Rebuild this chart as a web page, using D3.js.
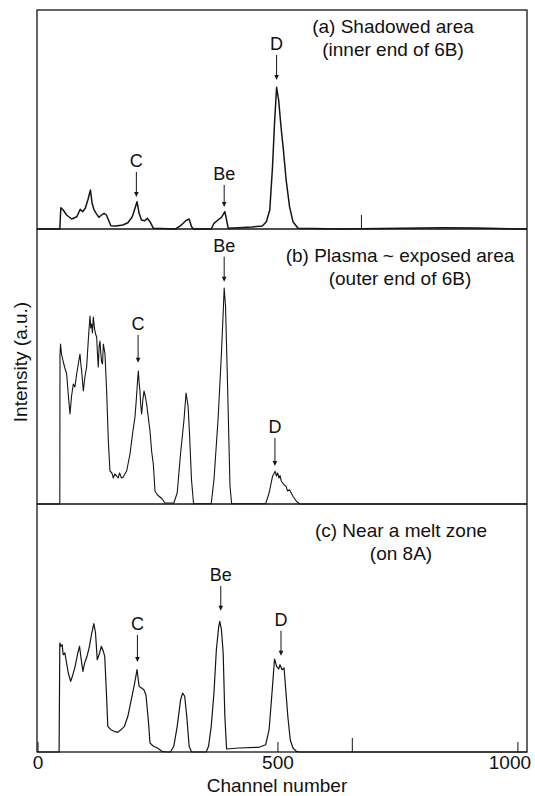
<!DOCTYPE html>
<html>
<head>
<meta charset="utf-8">
<script src="https://cdn.jsdelivr.net/npm/d3@7"></script>
<style>
  html, body { margin: 0; padding: 0; background: #fff; }
  text { font-family: "Liberation Sans", Arial, Helvetica, sans-serif; fill: #111; }
</style>
</head>
<body>
<svg id="chart" width="535" height="796"></svg>
<script>
// ---------------- data (channel, intensity a.u.) ----------------
const spectrumA = [
  [0,0],[46.5,0],[48.6,21.3],[53.5,19],[60.6,14],[71.3,10],[81.9,12.3],[89,19.7],[94,17.3],
  [99.6,20.7],[105.3,29.7],[110.3,39],[113.8,25.7],[117.4,19.7],[122.3,15.7],[128,11.7],
  [133.7,14],[138.7,15.7],[143.6,14],[147.9,9],[152.8,3.3],[163.5,3],[177.7,4],[188.3,6.3],
  [197.5,12.3],[203.2,20.7],[207.4,27.3],[211.7,15.7],[216.7,9],[223.8,8.3],[228.7,10.7],
  [234.4,7.3],[241.5,0.7],[287.6,0],[298.2,3.3],[308.9,8.3],[316,10],[321,2.3],[325.2,0],
  [362,0],[367.7,5.7],[376.2,9],[383.3,11.7],[390.4,17.3],[394,9],[397.5,0.7],[418.8,1.3],
  [447.2,2],[468.4,3],[476.9,7.3],[484,19],[489.7,62],[493.9,105.7],[498.2,141.7],[502.5,129],
  [507.4,102.3],[512.4,79],[518.1,49],[525.2,22.3],[532.3,7.3],[542.9,0.7],[631.6,0],
  [844.3,1.3],[915.2,1],[1000,0],[1020,0]
];
const spectrumB = [
  [0,0],[46.5,0],[46.9,150],[48,160],[50,150],[53.8,142],[57,136],[60.8,130],[64,110],
  [67.7,90],[71,108],[74.6,120],[78,117],[81.6,130],[85,140],[88.5,150],[90.3,140],[92,133],
  [95.5,113],[99,128],[102.4,137],[106,165],[109.4,188],[111,176],[112.8,180],[114.5,171],
  [116.3,187],[119,175],[121,170],[123.3,167],[125,150],[126.7,137],[128.5,158],[130.2,163],
  [132,150],[133.7,142],[135.5,140],[137.2,160],[139,155],[140.6,150],[144.1,113],[147.6,63],
  [151,33],[155,31],[158,26],[161,30],[164.9,28],[168,26],[171,31],[175,26],[178.8,27],
  [182,30],[185.8,33],[192.7,50],[198,70],[203.1,87],[206,105],[208,120],[210.1,133],
  [212,120],[213.5,113],[215,100],[217,90],[219.5,104],[221.9,113],[224.5,108],[227.4,100],
  [230,90],[234.4,73],[238,52],[241.3,40],[244.8,13],[250,9],[255.2,7],[260,5],[265.6,1],
  [284,1],[291.1,11],[298.2,51],[305.3,84.3],[309.6,111],[313.8,97.7],[316.7,71],[320.9,24.3],
  [325.2,0.3],[362,0.3],[367.7,24.3],[376.2,84.3],[383.3,151],[386.9,191],[389,216],
  [391.8,197.7],[396.1,117.7],[401.1,17.7],[404.6,0.3],[475.5,0.3],[482.6,11],[489.7,27.7],
  [495.4,32.7],[498,28],[500.4,31],[503,26],[505.3,28.5],[508,23],[511,21],[514,19],
  [518.1,17.7],[521,13],[525.2,14.3],[532.3,7.7],[539.4,2.7],[546.5,0],[1020,0]
];
const spectrumC = [
  [0,0],[45,0],[46.5,109],[48.6,105.7],[51.4,107.3],[53.5,97.3],[57.1,99],[60.6,89],[64.2,79],
  [69.1,70.7],[72.7,75.7],[78.4,85.7],[84,99],[87.6,105.7],[91.1,92.3],[94.7,80.7],[98.2,89],
  [103.2,95.7],[108.2,105.7],[112.4,117.3],[117.4,128.3],[120.9,119],[124.5,92.3],[129.4,99],
  [133,105.7],[137.2,100.7],[140.1,95.7],[143.6,59],[146.5,25.7],[152.8,22.3],[159.9,20.7],
  [167,19.7],[174.1,22.3],[181.2,25.7],[188.3,35.7],[195.4,52.3],[202.5,69],[207.4,82.3],
  [211.7,65.7],[216.7,64],[221.6,62.3],[225.9,57.3],[230.9,32.3],[234.4,9],[241.5,5.7],
  [250,4],[259.2,0.7],[269.9,0],[276.9,0],[284,5.7],[291.1,25.7],[298.2,52.3],[302.5,59],
  [306.7,55.7],[311,35.7],[316,5.7],[321,0],[351.4,0],[356.4,5.7],[362,25.7],[367.7,59],
  [372.7,102.3],[377.7,125.7],[379.8,130.7],[383.3,122.3],[386.9,99],[390.4,35.7],[394,3],
  [418.8,4],[461.3,4.7],[475.5,7.3],[482.6,22.3],[489.7,65.7],[493.9,93],[498.2,85.7],
  [502.5,83],[505.3,87.3],[509.6,82.3],[513.8,84],[516.7,65.7],[521.6,35.7],[526.6,12.3],
  [532.3,4],[539.4,0.7],[546.5,0],[1020,0]
];
// small marker spikes seen on the traces: [channel, intensity]
const markersA = [[675, 14]];
const markersC = [[656, 14]];
// peak annotations: [label, channel, arrowTail, arrowTip] (intensity a.u.)
const peaksA = [["C", 206, 57, 32], ["Be", 389, 44, 22], ["D", 498.2, 174, 149]];
const peaksB = [["C", 209.6, 169, 141.3], ["Be", 389, 247.3, 222.3], ["D", 494.7, 66, 38]];
const peaksC = [["C", 208.2, 117, 90], ["Be", 381.9, 166, 141.3], ["D", 507.4, 121.3, 96.3]];
const titlesA = ["(a) Shadowed area", "(inner end of 6B)"];
const titlesB = ["(b) Plasma ~ exposed area", "(outer end of 6B)"];
const titlesC = ["(c) Near a melt zone", "(on 8A)"];
const xTicks = [0, 500, 1000];
const xDomain = [0, 1020];
const yMaxA = 219, yMaxB = 275, yMaxC = 248;

// ---------------- layout ----------------
const svg = d3.select("#chart");
const left = 37, right = 527;
const x = d3.scaleLinear().domain(xDomain).range([37.5, right]);

const panels = [
  {data: spectrumA, markers: markersA, peaks: peaksA, titles: titlesA, top: 10, bottom: 229, ymax: yMaxA, tx: 393, ty: 33, sw: 1.5},
  {data: spectrumB, markers: [], peaks: peaksB, titles: titlesB, top: 229, bottom: 504, ymax: yMaxB, tx: 400, ty: 262, sw: 1.1},
  {data: spectrumC, markers: markersC, peaks: peaksC, titles: titlesC, top: 504, bottom: 752, ymax: yMaxC, tx: 401, ty: 537, sw: 1.2}
];

const ink = "#151515";

panels.forEach(p => {
  const y = d3.scaleLinear().domain([0, p.ymax]).range([p.bottom, p.top]);
  const line = d3.line().x(d => x(d[0])).y(d => y(d[1]));
  svg.append("path").datum(p.data)
    .attr("d", line).attr("fill", "none").attr("stroke", ink)
    .attr("stroke-width", p.sw).attr("stroke-linejoin", "round");

  svg.selectAll(null).data(p.markers).enter().append("line")
    .attr("x1", d => x(d[0])).attr("x2", d => x(d[0]))
    .attr("y1", y(0)).attr("y2", d => y(d[1]))
    .attr("stroke", ink).attr("stroke-width", 1);

  const g = svg.append("g");
  p.peaks.forEach(([lab, ch, tail, tip]) => {
    const px = x(ch), y0 = y(tail), y1 = y(tip);
    g.append("line").attr("x1", px).attr("x2", px).attr("y1", y0).attr("y2", y1 - 4)
      .attr("stroke", ink).attr("stroke-width", 1);
    g.append("path").attr("d", `M${px - 2.3},${y1 - 5} L${px + 2.3},${y1 - 5} L${px},${y1} Z`)
      .attr("fill", ink);
    g.append("text").attr("x", px).attr("y", y0 - 5).attr("text-anchor", "middle")
      .attr("font-size", 18).text(lab);
  });

  p.titles.forEach((t, i) => {
    svg.append("text").attr("x", p.tx).attr("y", p.ty + i * 23)
      .attr("text-anchor", "middle").attr("font-size", 19).text(t);
  });
});

// frame and separators
const frame = svg.append("g").attr("stroke", ink).attr("stroke-width", 1.3).attr("fill", "none");
frame.append("rect").attr("x", left).attr("y", 10).attr("width", right - left).attr("height", 742);
[229, 504].forEach(yy => frame.append("line").attr("x1", left).attr("x2", right).attr("y1", yy).attr("y2", yy));

// bottom axis
const axis = d3.axisBottom(x).tickValues(xTicks).tickFormat(d3.format("d"))
  .tickSizeInner(-10).tickSizeOuter(0).tickPadding(4);
const ax = svg.append("g").attr("transform", "translate(0,752)").call(axis);
ax.select(".domain").remove();
ax.selectAll(".tick line").attr("stroke", ink).attr("stroke-width", 1);
ax.selectAll(".tick text").attr("font-size", 19).attr("fill", ink)
  .attr("font-family", "Liberation Sans, Arial, sans-serif")
  .attr("dx", d => d === 1000 ? -8 : 0);

svg.append("text").attr("x", 277).attr("y", 792).attr("text-anchor", "middle")
  .attr("font-size", 19).text("Channel number");
svg.append("text").attr("transform", "translate(27,362) rotate(-90)")
  .attr("text-anchor", "middle").attr("font-size", 19).text("Intensity (a.u.)");
</script>
</body>
</html>
